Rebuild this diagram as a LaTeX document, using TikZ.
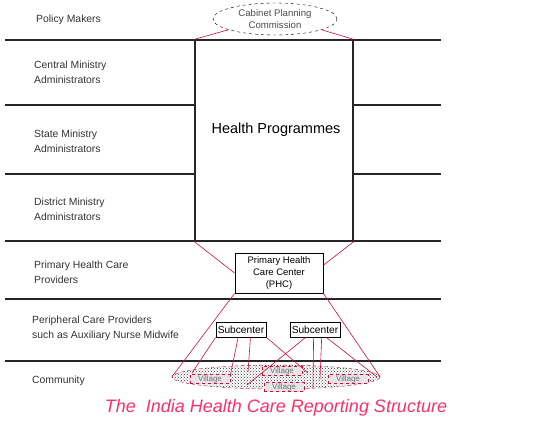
\documentclass[tikz,border=0pt]{standalone}
\usepackage{fontspec}
\setmainfont{Liberation Sans}
\usetikzlibrary{shapes.geometric, patterns}
\definecolor{LinkRed}{HTML}{C8103C}
\definecolor{TitlePink}{HTML}{F5336A}
\definecolor{LabelGrey}{HTML}{333333}

\begin{document}
\begin{tikzpicture}[x=1pt, y=-1pt,
    rowline/.style={draw=black!85, line width=1.1pt},
    rowlabel/.style={anchor=west, align=left, text=LabelGrey, font=\fontsize{10.4}{15}\selectfont, inner sep=0pt},
    redlink/.style={draw=LinkRed, line width=0.6pt},
    smallbox/.style={draw=black, line width=0.9pt, fill=white, inner sep=1.5pt, font=\fontsize{9.5}{12}\selectfont, align=center},
    villagebox/.style={draw=LinkRed, dashed, fill=black!10, text=black!55, inner sep=0.8pt, minimum width=40pt, minimum height=9pt, font=\fontsize{8}{8}\selectfont}]
  \useasboundingbox (0,0) rectangle (536,421);

  % bands
  \foreach \y in {40,105,174,241,299,361}
    \draw[rowline] (5,\y) -- (441,\y);

  % band labels
  \node[rowlabel] (lpolicy) at (36,20) {Policy Makers};
  \node[rowlabel] (lcentral) at (34,72) {Central Ministry\\Administrators};
  \node[rowlabel] (lstate) at (34,141) {State Ministry\\Administrators};
  \node[rowlabel] (ldistrict) at (34,209) {District Ministry\\Administrators};
  \node[rowlabel] (lprimary) at (34,272) {Primary Health Care\\Providers};
  \node[rowlabel] (lperiph) at (32,328) {Peripheral Care Providers\\such as Auxiliary Nurse Midwife};
  \node[rowlabel] (lcomm) at (32,381) {Community};

  % top of the structure
  \node[draw=black!85, line width=1.3pt, fill=white, minimum width=158pt, minimum height=201pt, inner sep=0pt] (hp) at (274,140.5) {};
  \node[font=\fontsize{14.5}{16}\selectfont] (hptext) at (276,130) {Health Programmes};
  \node[draw=black, dashed, ellipse, fill=white, minimum width=124pt, minimum height=32pt, inner sep=0pt, align=center, text=black!70, font=\fontsize{9.6}{12}\selectfont] (cpc) at (275,19) {Cabinet Planning\\Commission};
  \draw[redlink] (cpc.193) -- (hp.north west);
  \draw[redlink] (cpc.-13) -- (hp.north east);

  % primary health care center
  \node[smallbox, minimum width=88pt, minimum height=40pt] (phc) at (279,273) {Primary Health\\Care Center\\(PHC)};
  \draw[redlink] (hp.south west) -- (phc.west);
  \draw[redlink] (hp.south east) -- (phc.10);

  % villages
  \node[draw=LinkRed, dashed, ellipse, pattern=crosshatch dots, pattern color=black!80, minimum width=208pt, minimum height=24pt, inner sep=0pt] (vil) at (276,377) {};
  \node[villagebox] (v1) at (210,379) {Village};
  \node[villagebox] (v2) at (282,371) {Village};
  \node[villagebox] (v3) at (284,387) {Village};
  \node[villagebox] (v4) at (348,379) {Village};
  \draw[redlink] (phc.south west) -- (vil.west);
  \draw[redlink] (phc.south east) -- (vil.east);

  % subcenters
  \node[smallbox, font=\fontsize{10.2}{11}\selectfont, minimum width=50pt, minimum height=15pt, inner sep=1pt] (s1) at (241,329.5) {Subcenter};
  \node[smallbox, font=\fontsize{10.2}{11}\selectfont, minimum width=50pt, minimum height=15pt, inner sep=1pt] (s2) at (315,329.5) {Subcenter};
  \coordinate (e1) at (192,373);
  \coordinate (e2) at (230,377);
  \coordinate (e3) at (248,372);
  \coordinate (e4) at (308,373);
  \coordinate (e5) at (247,385);
  \coordinate (e6) at (313,388);
  \coordinate (e7) at (320,379);
  \coordinate (e8) at (377,377);
  \draw[redlink] (s1.south west) -- (e1);
  \draw[redlink] (s1.-110) -- (e2);
  \draw[redlink] (s1.-40) -- (e3);
  \draw[redlink] (s1.south east) -- (e4);
  \draw[redlink] (s2.-140) -- (e5);
  \draw[redlink] (s2.-100) -- (e6);
  \draw[redlink] (s2.-50) -- (e7);
  \draw[redlink] (s2.-35) -- (e8);

  % caption
  \node[text=TitlePink, font=\fontsize{18}{20}\selectfont\itshape] (title) at (276,408) {The\ \ India Health Care Reporting Structure};
\end{tikzpicture}
\end{document}
